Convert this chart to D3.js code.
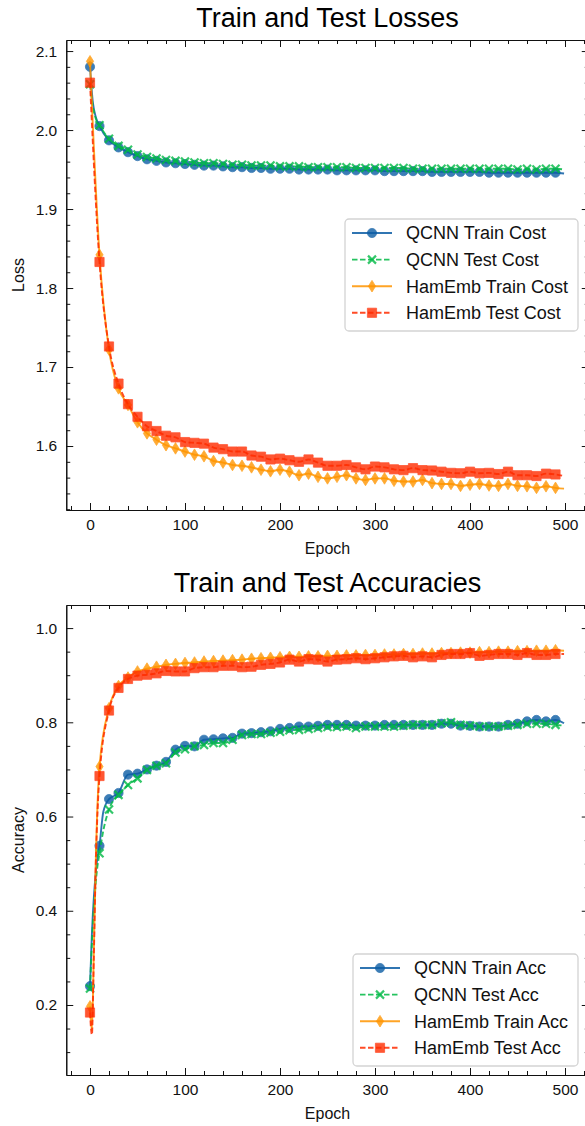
<!DOCTYPE html>
<html>
<head>
<meta charset="utf-8">
<script src="https://cdn.jsdelivr.net/npm/d3@7"></script>
<style>
  body { margin: 0; background: #fff; }
  svg { display: block; font-family: "Liberation Sans", Arial, Helvetica, sans-serif; }
</style>
</head>
<body>
<div id="chart"></div>
<script>
// epochs where markers sit (every 10th epoch)
const epochs = [0,10,20,30,40,50,60,70,80,90,100,110,120,130,140,150,160,170,180,190,
  200,210,220,230,240,250,260,270,280,290,300,310,320,330,340,350,360,370,380,390,
  400,410,420,430,440,450,460,470,480,490];

// ---- losses ----
const lossQcnnTrain = [2.080,2.005,1.987,1.978,1.972,1.967,1.963,1.961,1.959,1.958,
  1.957,1.956,1.955,1.955,1.954,1.953,1.953,1.952,1.952,1.951,
  1.951,1.951,1.950,1.950,1.950,1.950,1.949,1.949,1.949,1.949,
  1.949,1.948,1.948,1.948,1.948,1.948,1.947,1.947,1.947,1.947,
  1.947,1.947,1.946,1.946,1.946,1.946,1.946,1.946,1.946,1.946];
const lossQcnnTest = [2.058,2.006,1.989,1.980,1.975,1.969,1.966,1.964,1.962,1.961,
  1.960,1.959,1.958,1.958,1.957,1.956,1.956,1.955,1.955,1.955,
  1.954,1.954,1.954,1.953,1.953,1.953,1.953,1.953,1.952,1.952,
  1.952,1.952,1.952,1.952,1.951,1.951,1.951,1.951,1.951,1.951,
  1.951,1.951,1.951,1.951,1.951,1.950,1.951,1.950,1.951,1.951];
const lossHamTrain = [2.087,1.842,1.722,1.673,1.652,1.630,1.616,1.608,1.601,1.597,
  1.593,1.589,1.587,1.581,1.579,1.576,1.575,1.573,1.570,1.568,
  1.570,1.5675,1.563,1.565,1.561,1.559,1.561,1.563,1.559,1.557,
  1.559,1.559,1.556,1.555,1.555,1.557,1.553,1.552,1.552,1.5495,
  1.551,1.552,1.550,1.5495,1.552,1.5495,1.549,1.547,1.549,1.547];
const lossHamTest = [2.060,1.833,1.726,1.679,1.653,1.637,1.625,1.619,1.613,1.611,
  1.605,1.604,1.603,1.598,1.596,1.593,1.593,1.588,1.5865,1.583,
  1.584,1.582,1.580,1.583,1.579,1.575,1.575,1.576,1.573,1.5705,
  1.574,1.573,1.5705,1.5695,1.572,1.5695,1.569,1.5675,1.566,1.5655,
  1.5675,1.5655,1.566,1.5645,1.5675,1.563,1.563,1.562,1.565,1.564];
// extra line points between markers: [epoch, value]
const lossQcnnTrainExtra = [[3, 2.035], [6, 2.017], [499, 1.945]];
const lossQcnnTestExtra = [[3, 2.030], [6, 2.015], [499, 1.950]];
const lossHamTrainExtra = [[499, 1.546]];
const lossHamTestExtra = [[499, 1.562]];

// ---- accuracies ----
const accQcnnTrain = [0.240,0.538,0.637,0.650,0.689,0.691,0.700,0.708,0.716,0.742,
  0.750,0.749,0.763,0.764,0.766,0.767,0.776,0.777,0.779,0.781,
  0.786,0.788,0.791,0.791,0.7925,0.7945,0.7945,0.7945,0.793,0.793,
  0.793,0.7945,0.7945,0.7945,0.7945,0.7945,0.7945,0.797,0.797,0.793,
  0.7925,0.791,0.791,0.791,0.7945,0.797,0.802,0.805,0.802,0.805];
const accQcnnTest = [0.235,0.522,0.615,0.646,0.667,0.681,0.699,0.708,0.713,0.736,
  0.743,0.749,0.752,0.756,0.756,0.763,0.773,0.775,0.775,0.778,
  0.780,0.783,0.784,0.786,0.788,0.790,0.790,0.791,0.788,0.791,
  0.791,0.791,0.791,0.7925,0.7945,0.7945,0.7945,0.798,0.800,0.7945,
  0.793,0.791,0.791,0.791,0.7925,0.7945,0.797,0.797,0.797,0.7945];
const accHamTrain = [0.197,0.706,0.830,0.877,0.895,0.908,0.914,0.918,0.922,0.924,
  0.926,0.927,0.929,0.930,0.931,0.932,0.933,0.935,0.936,0.937,
  0.938,0.939,0.939,0.940,0.940,0.941,0.941,0.942,0.942,0.943,
  0.943,0.944,0.944,0.945,0.945,0.946,0.946,0.947,0.947,0.948,
  0.948,0.949,0.949,0.950,0.950,0.951,0.951,0.952,0.952,0.953];
const accHamTest = [0.184,0.686,0.825,0.873,0.892,0.899,0.901,0.904,0.909,0.908,
  0.908,0.915,0.917,0.917,0.920,0.920,0.917,0.918,0.922,0.924,
  0.927,0.933,0.929,0.934,0.933,0.929,0.933,0.934,0.936,0.934,
  0.936,0.938,0.940,0.941,0.938,0.940,0.938,0.943,0.945,0.945,
  0.947,0.941,0.943,0.945,0.945,0.943,0.947,0.943,0.943,0.945];
const accQcnnTrainExtra = [[2, 0.35], [7, 0.50], [14, 0.61], [499, 0.798]];
const accQcnnTestExtra = [[2, 0.33], [7, 0.48], [14, 0.57], [499, 0.793]];
const accHamTrainExtra = [[2, 0.145], [4, 0.31], [6, 0.50], [499, 0.952]];
const accHamTestExtra = [[2, 0.137], [4, 0.30], [6, 0.49], [499, 0.945]];

const lossLabels = ["QCNN Train Cost", "QCNN Test Cost", "HamEmb Train Cost", "HamEmb Test Cost"];
const accLabels = ["QCNN Train Acc", "QCNN Test Acc", "HamEmb Train Acc", "HamEmb Test Acc"];

const xTicks = [0, 100, 200, 300, 400, 500];
const lossTicks = [1.6, 1.7, 1.8, 1.9, 2.0, 2.1];
const accTicks = [0.2, 0.4, 0.6, 0.8, 1.0];

// styles per series (same order in both panels)
const styles = [
  { color: "#0C5DA5", dash: null, marker: "circle" },
  { color: "#00B945", dash: "5.5,2.5", marker: "x" },
  { color: "#FF9500", dash: null, marker: "diamond" },
  { color: "#FF2C00", dash: "5.5,2.5", marker: "square" }
];

const width = 585, height = 1126;
const left = 66.25, right = 588.75;

const svg = d3.select("#chart").append("svg")
  .attr("width", width)
  .attr("height", height);

const x = d3.scaleLinear().domain([-25, 525]).range([left, right]);

function markerPath(type) {
  if (type === "circle") return d3.symbol(d3.symbolCircle, Math.PI * 4.6 * 4.6)();
  if (type === "x") return "M-4,-4L4,4M-4,4L4,-4";
  if (type === "diamond") return "M0,-5.8L3.6,0L0,5.8L-3.6,0Z";
  return "M-4.6,-4.6h9.2v9.2h-9.2Z";
}

function drawMarker(g, type, color) {
  const p = g.append("path").attr("d", markerPath(type)).attr("opacity", 0.8);
  if (type === "x") {
    p.attr("fill", "none").attr("stroke", color).attr("stroke-width", 2.2);
  } else {
    p.attr("fill", color).attr("stroke", color).attr("stroke-width", 0.8);
  }
  return p;
}

function drawPanel(opts) {
  const y = d3.scaleLinear().domain(opts.yDomain).range([opts.bottom, opts.top]);
  const g = svg.append("g");

  // Title
  g.append("text")
    .attr("x", (left + right) / 2)
    .attr("y", opts.top - 13)
    .attr("text-anchor", "middle")
    .style("font-size", "27px")
    .style("fill", "#000")
    .text(opts.title);

  // Series
  opts.series.forEach((vals, i) => {
    const st = styles[i];
    const pts = epochs.map((e, j) => [e, vals[j]])
      .concat(opts.extras[i])
      .sort((a, b) => a[0] - b[0]);
    const line = d3.line()
      .x(d => x(d[0]))
      .y(d => y(d[1]))
      .curve(d3.curveMonotoneX);
    const sg = g.append("g");
    sg.append("path")
      .datum(pts)
      .attr("d", line)
      .attr("fill", "none")
      .attr("stroke", st.color)
      .attr("stroke-width", 1.9)
      .attr("stroke-dasharray", st.dash)
      .attr("opacity", 0.85);
    epochs.forEach((e, j) => {
      drawMarker(sg, st.marker, st.color)
        .attr("transform", `translate(${x(e)},${y(vals[j])})`);
    });
  });

  // Axes (ticks pointing inward on all four sides)
  const yMinor = opts.yMinor;
  const xMinor = d3.range(-20, 521, 20).filter(v => v % 100 !== 0);

  const axes = [
    g.append("g").attr("transform", `translate(0,${opts.bottom})`)
      .call(d3.axisBottom(x).tickValues(xTicks).tickSizeInner(-7).tickSizeOuter(0).tickPadding(9)),
    g.append("g").attr("transform", `translate(0,${opts.bottom})`)
      .call(d3.axisBottom(x).tickValues(xMinor).tickSizeInner(-4).tickSizeOuter(0).tickFormat("")),
    g.append("g").attr("transform", `translate(0,${opts.top})`)
      .call(d3.axisTop(x).tickValues(xTicks).tickSizeInner(-7).tickSizeOuter(0).tickFormat("")),
    g.append("g").attr("transform", `translate(0,${opts.top})`)
      .call(d3.axisTop(x).tickValues(xMinor).tickSizeInner(-4).tickSizeOuter(0).tickFormat("")),
    g.append("g").attr("transform", `translate(${left},0)`)
      .call(d3.axisLeft(y).tickValues(opts.yTicks).tickSizeInner(-7).tickSizeOuter(0).tickPadding(9).tickFormat(d3.format(".1f"))),
    g.append("g").attr("transform", `translate(${left},0)`)
      .call(d3.axisLeft(y).tickValues(yMinor).tickSizeInner(-4).tickSizeOuter(0).tickFormat("")),
    g.append("g").attr("transform", `translate(${right},0)`)
      .call(d3.axisRight(y).tickValues(opts.yTicks).tickSizeInner(-7).tickSizeOuter(0).tickFormat("")),
    g.append("g").attr("transform", `translate(${right},0)`)
      .call(d3.axisRight(y).tickValues(yMinor).tickSizeInner(-4).tickSizeOuter(0).tickFormat(""))
  ];
  axes.forEach(a => {
    a.select(".domain").attr("stroke", "#111").attr("stroke-width", 1.1);
    a.selectAll(".tick line").attr("stroke", "#111").attr("stroke-width", 1);
    a.selectAll("text")
      .style("font-size", "15.5px")
      .style("font-family", "'Liberation Sans', Arial, sans-serif")
      .style("fill", "#111");
  });

  // Axis labels
  g.append("text")
    .attr("x", (left + right) / 2)
    .attr("y", opts.bottom + 43.5)
    .attr("text-anchor", "middle")
    .style("font-size", "16px")
    .style("fill", "#111")
    .text("Epoch");
  g.append("text")
    .attr("transform", `translate(24,${(opts.top + opts.bottom) / 2}) rotate(-90)`)
    .attr("text-anchor", "middle")
    .style("font-size", "16px")
    .style("fill", "#111")
    .text(opts.ylabel);

  // Legend
  const lg = g.append("g");
  const lb = opts.legend;
  lg.append("rect")
    .attr("x", lb.x0).attr("y", lb.y0)
    .attr("width", lb.x1 - lb.x0).attr("height", lb.y1 - lb.y0)
    .attr("rx", 4)
    .attr("fill", "#fff").attr("fill-opacity", 0.8)
    .attr("stroke", "#d3d3d3").attr("stroke-width", 1.3);
  opts.labels.forEach((lab, i) => {
    const st = styles[i];
    const cy = lb.y0 + 14 + i * 26.6;
    lg.append("line")
      .attr("x1", lb.x0 + 7).attr("x2", lb.x0 + 47)
      .attr("y1", cy).attr("y2", cy)
      .attr("stroke", st.color).attr("stroke-width", 1.9)
      .attr("stroke-dasharray", st.dash)
      .attr("opacity", 0.85);
    drawMarker(lg, st.marker, st.color).attr("transform", `translate(${lb.x0 + 27},${cy})`);
    lg.append("text")
      .attr("x", lb.x0 + 61)
      .attr("y", cy)
      .attr("dy", "0.35em")
      .style("font-size", "18px")
      .style("fill", "#111")
      .text(lab);
  });
}

drawPanel({
  top: 40, bottom: 510,
  yDomain: [1.519, 2.114],
  yTicks: lossTicks,
  yMinor: d3.range(1.52, 2.111, 0.02).map(v => +v.toFixed(2)).filter(v => !lossTicks.some(t => Math.abs(t - v) < 1e-6)),
  title: "Train and Test Losses",
  ylabel: "Loss",
  series: [lossQcnnTrain, lossQcnnTest, lossHamTrain, lossHamTest],
  extras: [lossQcnnTrainExtra, lossQcnnTestExtra, lossHamTrainExtra, lossHamTestExtra],
  labels: lossLabels,
  legend: { x0: 345, x1: 578, y0: 219, y1: 331 }
});

drawPanel({
  top: 605, bottom: 1075,
  yDomain: [0.0514, 1.049],
  yTicks: accTicks,
  yMinor: d3.range(0.1, 1.041, 0.05).map(v => +v.toFixed(2)).filter(v => !accTicks.some(t => Math.abs(t - v) < 1e-6)),
  title: "Train and Test Accuracies",
  ylabel: "Accuracy",
  series: [accQcnnTrain, accQcnnTest, accHamTrain, accHamTest],
  extras: [accQcnnTrainExtra, accQcnnTestExtra, accHamTrainExtra, accHamTestExtra],
  labels: accLabels,
  legend: { x0: 353, x1: 578, y0: 954, y1: 1066 }
});
</script>
</body>
</html>
